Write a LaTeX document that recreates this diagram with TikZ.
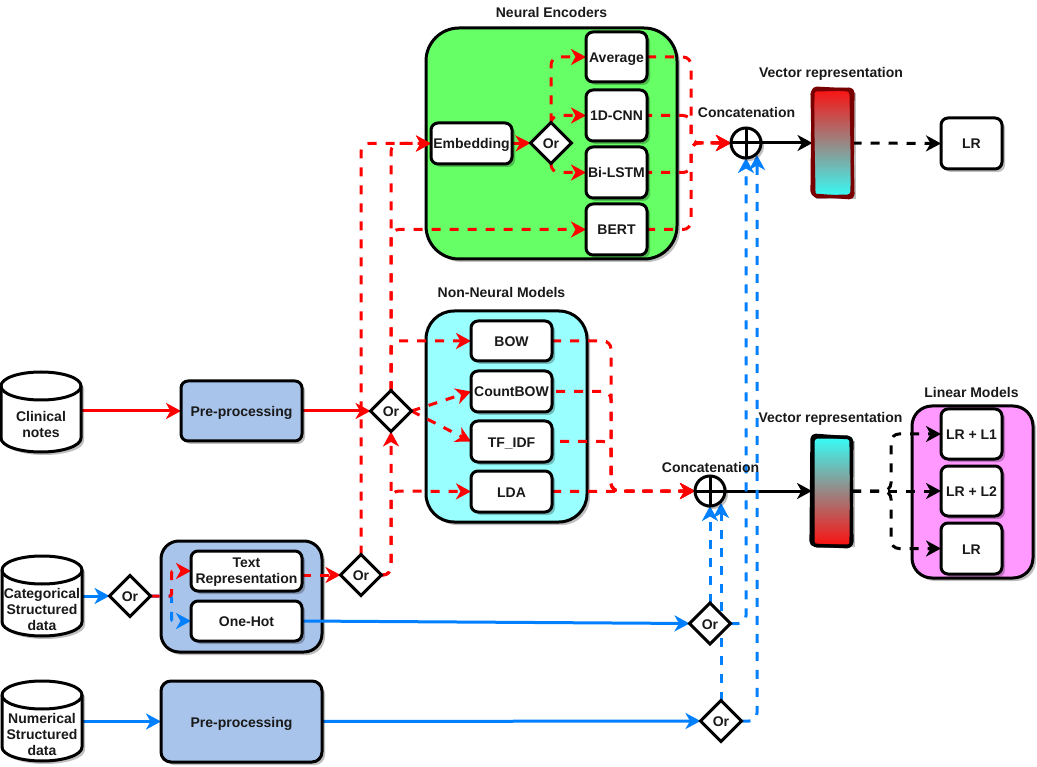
\documentclass[tikz,border=0pt]{standalone}
\usepackage{fontspec}
\setmainfont{Liberation Sans}
\usetikzlibrary{arrows.meta,shapes.geometric,shadows,calc}
\definecolor{cred}{HTML}{FF0000}
\definecolor{cblue}{HTML}{007FFF}
\definecolor{cgreen}{HTML}{66FF66}
\definecolor{ccyan}{HTML}{99FFFF}
\definecolor{cpink}{HTML}{FF99FF}
\definecolor{csteel}{HTML}{A9C4EB}
\definecolor{cdark}{HTML}{780000}
\definecolor{gradred}{HTML}{F81414}
\definecolor{gradcyan}{HTML}{38FBF5}
\pgfdeclarelayer{backbox}
\pgfdeclarelayer{conn}
\pgfsetlayers{backbox,conn,main}
\tikzset{
  txt/.style={font=\bfseries\fontsize{14}{16}\selectfont,align=center,text=black!90,inner sep=0pt,outer sep=0pt},
  oneline/.style={text height=11pt,text depth=0pt},
  shadowed/.style={drop shadow={shadow xshift=3pt,shadow yshift=-3pt,opacity=.25,fill=black}},
  rbox/.style={txt,oneline,draw=black,line width=3pt,fill=white,rounded corners=7pt,shadowed},
  panel/.style={txt,draw=black,line width=3pt,rounded corners=#1,shadowed},
  ordiamond/.style={txt,oneline,diamond,draw=black,line width=3pt,fill=white,minimum width=41pt,minimum height=41pt,aspect=1},
  plusnode/.style={circle,draw=black,line width=3pt,fill=white,minimum size=30pt,inner sep=0pt,outer sep=0pt,shadowed},
  caption/.style={txt,oneline},
  conn/.style={line width=3pt,-{Stealth[length=15pt,width=16pt,inset=4.5pt]}},
  dashline/.style={conn,dash pattern=on 9pt off 9pt},
  routed/.style={rounded corners=8pt},
  vecfill/.style={rectangle,inner sep=0pt,outer sep=0pt,minimum width=40pt,minimum height=106pt,shadowed},
  sketchline/.style={line width=3.2pt,line join=round,rounded corners=4pt},
}
\newcommand{\cylnode}[5]{% name, left x, top y, text shift, text
  \path[draw=black,line width=3pt,fill=white,shadowed]
    (#2,#3+14) .. controls (#2,#3+6) and (#2+18,#3) .. (#2+40,#3)
    .. controls (#2+62,#3) and (#2+80,#3+6) .. (#2+80,#3+14)
    -- (#2+80,#3+66) .. controls (#2+80,#3+74) and (#2+62,#3+80) .. (#2+40,#3+80)
    .. controls (#2+18,#3+80) and (#2,#3+74) .. (#2,#3+66) -- cycle;
  \draw[line width=3pt] (#2,#3+14) .. controls (#2,#3+22) and (#2+18,#3+28) .. (#2+40,#3+28)
    .. controls (#2+62,#3+28) and (#2+80,#3+22) .. (#2+80,#3+14);
  \node[txt,minimum width=80pt,minimum height=80pt] (#1) at (#2+40,#3+40) {};
  \node[txt] (#1text) at (#2+40,#3+40+#4) {#5};
}
\begin{document}
\begin{tikzpicture}[x=1pt,y=-1pt]
\useasboundingbox (0,0) rectangle (1037,767);

% containers
\begin{pgfonlayer}{backbox}
\node[panel=33pt,fill=cgreen,minimum width=251pt,minimum height=231pt] (neural) at (551.5,143.5) {};
\node[panel=28pt,fill=ccyan,minimum width=161pt,minimum height=211pt] (nonneural) at (506.5,416.5) {};
\node[panel=20pt,fill=cpink,minimum width=121pt,minimum height=172pt] (linear) at (972.5,492) {};
\node[panel=18pt,fill=csteel,minimum width=161pt,minimum height=111pt] (cathold) at (241.5,596.5) {};
\end{pgfonlayer}

% captions
\node[caption] (capne) at (551.5,12) {Neural Encoders};
\node[caption] (capnn) at (501.5,292) {Non-Neural Models};
\node[caption] (capvA) at (831,72) {Vector representation};
\node[caption] (capvB) at (830.5,417) {Vector representation};
\node[caption] (capcA) at (746.5,112) {Concatenation};
\node[caption] (capcB) at (710.5,467) {Concatenation};
\node[caption] (capl) at (971.5,392) {Linear Models};

% sources
\cylnode{clin}{1}{372}{12}{Clinical\\notes}
\cylnode{cat}{2}{556}{13}{Categorical\\Structured\\data}
\cylnode{num}{2}{681}{13}{Numerical\\Structured\\data}

% boxes
\node[rbox,fill=csteel,minimum width=121pt,minimum height=60pt] (prea) at (241.5,411) {Pre-processing};
\node[rbox,fill=csteel,rounded corners=10pt,minimum width=161pt,minimum height=81pt] (preb) at (241.5,721.5) {Pre-processing};
\node[rbox,minimum width=111pt,minimum height=40pt] (trep) at (246.5,571) {};
\node[txt] (treptext) at ($(trep.center)+(0,1)$) {Text\\Representation};
\node[rbox,minimum width=111pt,minimum height=40pt] (ohot) at (246.5,621) {One-Hot};

\node[rbox,minimum width=81pt,minimum height=41pt] (emb) at (471.5,143.5) {Embedding};
\node[rbox,minimum width=61pt,minimum height=50pt] (avg) at (616.5,57) {Average};
\node[rbox,minimum width=61pt,minimum height=51pt] (cnn) at (616.5,115.5) {1D-CNN};
\node[rbox,minimum width=61pt,minimum height=51pt] (lstm) at (616.5,172.5) {Bi-LSTM};
\node[rbox,minimum width=61pt,minimum height=51pt] (bert) at (616.5,229.5) {BERT};

\node[rbox,minimum width=81pt,minimum height=40pt] (bow) at (511.5,341) {BOW};
\node[rbox,minimum width=81pt,minimum height=41pt] (cbow) at (511.5,391.5) {CountBOW};
\node[rbox,minimum width=81pt,minimum height=41pt] (tfidf) at (511.5,441.5) {TF\_IDF};
\node[rbox,minimum width=81pt,minimum height=41pt] (lda) at (511.5,491.5) {LDA};

\node[rbox,minimum width=61pt,minimum height=51pt] (lrtop) at (971.5,143.5) {LR};
\node[rbox,minimum width=61pt,minimum height=50pt] (lra) at (971.5,434) {LR + L1};
\node[rbox,minimum width=61pt,minimum height=50pt] (lrb) at (971.5,491) {LR + L2};
\node[rbox,minimum width=61pt,minimum height=51pt] (lrc) at (971.5,548.5) {LR};

% decision nodes
\node[ordiamond] (orenc) at (551,143) {Or};
\node[ordiamond] (ora) at (391,411) {Or};
\node[ordiamond] (orb) at (361,575) {Or};
\node[ordiamond] (orc) at (130,596) {Or};
\node[ordiamond] (ord) at (710,623.5) {Or};
\node[ordiamond] (ore) at (721,721) {Or};

% concatenation
\node[plusnode] (plusa) at (746,143) {};
\draw[line width=3pt] (plusa.north) -- (plusa.south) (plusa.west) -- (plusa.east);
\node[plusnode] (plusb) at (710,491) {};
\draw[line width=3pt] (plusb.north) -- (plusb.south) (plusb.west) -- (plusb.east);

% vectors
\node[vecfill,top color=gradred,bottom color=gradcyan] (veca) at (832.5,143) {};
\draw[sketchline,cdark] (812,90) -- (853,89) -- (852,196) -- (814,197) -- cycle;
\draw[sketchline,cdark] (813,88) -- (851,90) -- (853,198) -- (812,195) -- cycle;
\node[vecfill,top color=gradcyan,bottom color=gradred] (vecb) at (832,491) {};
\draw[sketchline,black] (813,437) -- (851,437) -- (852,546) -- (813,546) -- cycle;
\draw[sketchline,black] (812,435) -- (852,438) -- (851,547) -- (811,545) -- cycle;

% named routing points
\coordinate (busa) at (691,143);
\coordinate (busb) at (611,491);
\coordinate (ldaturn) at (391,491);
\coordinate (tipe) at (721,503);
\coordinate (tipf) at (757,155);
\coordinate (splitb) at (891,491);

\begin{pgfonlayer}{conn}
% solid inputs
\draw[conn,cred] (clin.east |- prea) -- (prea.west);
\draw[conn,cred] (prea.east) -- (ora.west);
\draw[conn,cblue] (cat.east |- orc) -- (orc.west);
\draw[conn,cblue] (num.east |- preb) -- (preb.west);
\draw[conn,cblue] (ohot.east) -- (ord.west);
\draw[conn,cblue] (preb.east) -- (ore.west);

% categorical split
\draw[dashline,cblue,rounded corners=2pt] (orc.east) -- ++(21,0) |- (ohot.west) [sharp corners];
\draw[dashline,cred,rounded corners=2pt] (orc.east) -- ++(21,0) |- (trep.west) [sharp corners];
\draw[dashline,cred] (orb -| trep.east) -- (orb.west);

% into encoders and models
\draw[dashline,routed,cred] (orb.north) |- (emb.west) [sharp corners];
\draw[dashline,routed,cred] (ora.north) |- (emb.west) [sharp corners];
\draw[dashline,routed,cred] (orb.east) -| (ora.south) [sharp corners];
\draw[dashline,routed,cred] (orb.east) -| (ldaturn) -- (lda.west) [sharp corners];
\draw[dashline,routed,cred] (ora.north) |- (bert.west) [sharp corners];
\draw[dashline,routed,cred] (ora.north) |- (bow.west) [sharp corners];
\draw[dashline,cred] (ora.east) -- (cbow.west);
\draw[dashline,cred] (ora.east) -- (tfidf.west);

% encoder internals
\draw[conn,dash pattern=on 9pt off 3pt,cred] (emb.east) -- (orenc.west);
\draw[dashline,routed,cred] (orenc.north) |- (avg.west) [sharp corners];
\draw[dashline,routed,cred] (orenc.north) |- (cnn.west) [sharp corners];
\draw[dashline,routed,cred] (orenc.south) |- (lstm.west) [sharp corners];

% encoder outputs
\draw[dashline,routed,cred] (avg.east) -| (busa) -- (plusa.west) [sharp corners];
\draw[dashline,routed,cred,dash phase=4pt] (cnn.east) -| (busa) -- (plusa.west) [sharp corners];
\draw[dashline,routed,cred,dash phase=4pt] (lstm.east) -| (busa) -- (plusa.west) [sharp corners];
\draw[dashline,routed,cred,dash phase=1pt] (bert.east) -| (busa) -- (plusa.west) [sharp corners];

% model outputs
\draw[dashline,cred] (lda.east) -- (plusb.west);
\draw[dashline,routed,cred] (bow.east) -| (busb) -- (plusb.west) [sharp corners];
\draw[dashline,routed,cred,dash phase=14pt] (cbow.east) -| (busb) -- (plusb.west) [sharp corners];
\draw[dashline,routed,cred,dash phase=10pt] (tfidf.east) -| (busb) -- (plusb.west) [sharp corners];

% vector paths
\draw[conn,black] (plusa.east) -- (veca.west);
\draw[dashline,black] (veca.east) -- (lrtop.west);
\draw[conn,black] (plusb.east) -- (vecb.west);
\draw[dashline,black] (vecb.east) -- (lrb.west);
\draw[dashline,routed,black] (vecb.east) -- (splitb) |- (lra.west) [sharp corners];
\draw[dashline,routed,black] (vecb.east) -- (splitb) |- (lrc.west) [sharp corners];

% structured data into concatenation
\draw[dashline,cblue] (ord.north) -- (plusb.south);
\draw[dashline,routed,cblue] (ord.east) -| (plusa.south) [sharp corners];
\draw[dashline,cblue] (ore.north) -- (tipe);
\draw[dashline,routed,cblue] (ore.east) -| (tipf) [sharp corners];
\end{pgfonlayer}
\end{tikzpicture}
\end{document}
